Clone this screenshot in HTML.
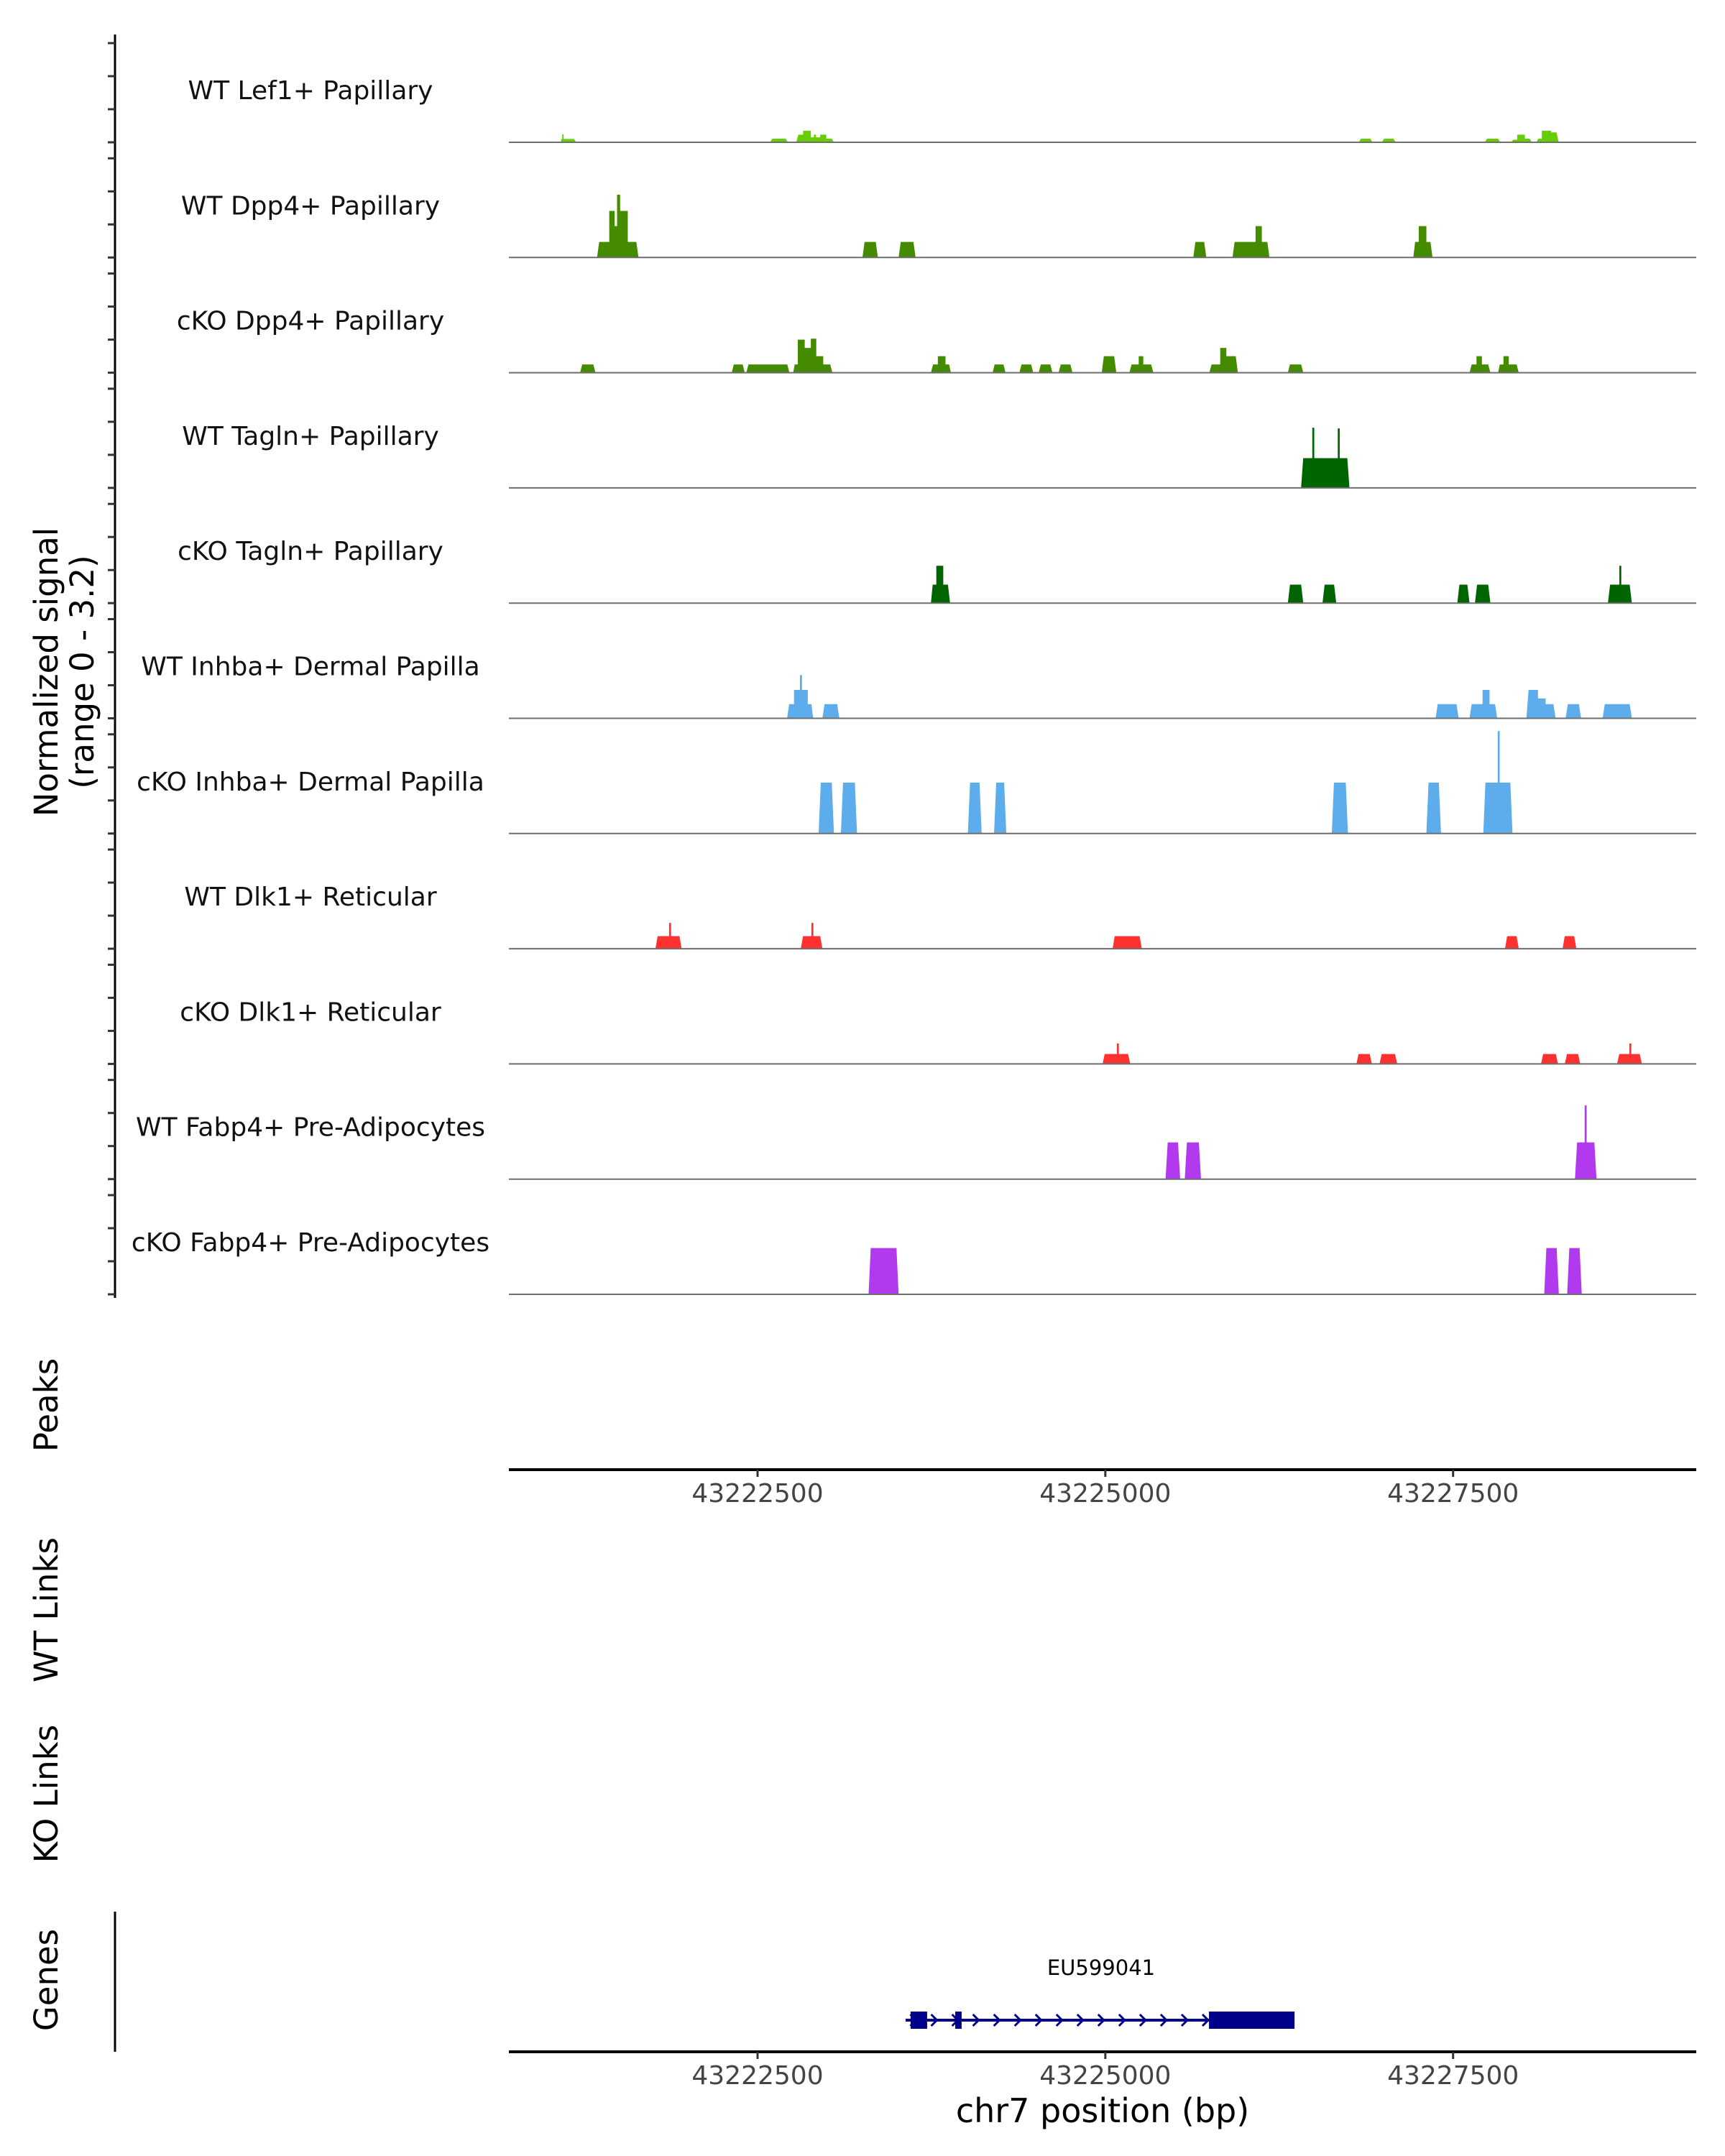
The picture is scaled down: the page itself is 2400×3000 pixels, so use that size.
<!DOCTYPE html>
<html><head><meta charset="utf-8"><style>
html,body{margin:0;padding:0;background:#fff;}
svg{display:block;font-family:"DejaVu Sans","Liberation Sans",sans-serif;}
</style></head><body>
<svg id="chart" width="2400" height="3000" viewBox="0 0 2400 3000" xmlns="http://www.w3.org/2000/svg"></svg>
<script>
// ---- data ----
const trackNames = ["WT Lef1+ Papillary","WT Dpp4+ Papillary","cKO Dpp4+ Papillary","WT Tagln+ Papillary","cKO Tagln+ Papillary","WT Inhba+ Dermal Papilla","cKO Inhba+ Dermal Papilla","WT Dlk1+ Reticular","cKO Dlk1+ Reticular","WT Fabp4+ Pre-Adipocytes","cKO Fabp4+ Pre-Adipocytes"];
const trackColors = ["#66CD00","#458B00","#458B00","#006400","#006400","#5DADEC","#5DADEC","#FF3030","#FF3030","#B23AEE","#B23AEE"];
// segments: [startBp, endBp, value]
const segLef1 = [[43221086,43221196,0.1],[43221096,43221106,0.24],[43222590,43222718,0.11],[43222778,43222828,0.23],[43222828,43222883,0.35],[43222883,43222950,0.15],[43222905,43222920,0.23],[43222950,43222994,0.23],[43222994,43223049,0.11],[43226822,43226921,0.11],[43226988,43227087,0.11],[43227728,43227839,0.11],[43227917,43227961,0.08],[43227961,43228016,0.23],[43228016,43228066,0.11],[43228099,43228138,0.11],[43228138,43228204,0.35],[43228204,43228259,0.3]];
const segWTDpp4 = [[43221346,43221434,0.47],[43221434,43221473,1.41],[43221473,43221490,0.95],[43221490,43221512,1.9],[43221512,43221567,1.41],[43221567,43221644,0.47],[43223254,43223365,0.47],[43223514,43223636,0.47],[43225632,43225726,0.47],[43225914,43226080,0.47],[43226080,43226125,0.95],[43226125,43226180,0.47],[43227214,43227253,0.47],[43227253,43227308,0.95],[43227308,43227352,0.47]];
const segKODpp4 = [[43221224,43221335,0.25],[43222314,43222408,0.25],[43222419,43222729,0.25],[43222756,43222789,0.25],[43222789,43222839,1.0],[43222839,43222883,0.75],[43222883,43222922,1.03],[43222922,43222972,0.5],[43222972,43223038,0.25],[43223746,43223796,0.25],[43223796,43223851,0.5],[43223851,43223890,0.25],[43224189,43224283,0.25],[43224382,43224482,0.25],[43224521,43224620,0.25],[43224664,43224764,0.25],[43224974,43225079,0.5],[43225173,43225240,0.25],[43225240,43225273,0.5],[43225273,43225345,0.25],[43225748,43225826,0.25],[43225826,43225870,0.75],[43225870,43225953,0.5],[43226312,43226423,0.25],[43227618,43227668,0.25],[43227668,43227707,0.5],[43227707,43227768,0.25],[43227823,43227862,0.25],[43227862,43227900,0.5],[43227900,43227972,0.25]];
const segWTTagln = [[43226407,43226755,0.9],[43226488,43226502,1.82],[43226671,43226685,1.8]];
const segKOTagln = [[43223746,43223785,0.56],[43223785,43223835,1.13],[43223835,43223884,0.56],[43226312,43226423,0.56],[43226561,43226660,0.56],[43227530,43227618,0.56],[43227657,43227768,0.56],[43228613,43228785,0.56],[43228695,43228709,1.13]];
const segWTInhba = [[43222712,43222762,0.43],[43222762,43222861,0.86],[43222805,43222819,1.31],[43222861,43222900,0.43],[43222966,43223088,0.43],[43227374,43227540,0.43],[43227618,43227712,0.43],[43227712,43227762,0.86],[43227762,43227817,0.43],[43228027,43228110,0.86],[43228110,43228165,0.6],[43228165,43228237,0.43],[43228309,43228420,0.43],[43228575,43228785,0.43]];
const segKOInhba = [[43222939,43223049,1.54],[43223099,43223215,1.54],[43224012,43224111,1.54],[43224200,43224288,1.54],[43226628,43226744,1.54],[43227308,43227413,1.54],[43227717,43227927,1.54],[43227821,43227835,3.1]];
const segWTDlk1 = [[43221766,43221954,0.38],[43221864,43221878,0.78],[43222811,43222966,0.38],[43222887,43222901,0.78],[43225052,43225151,0.38],[43225151,43225262,0.38],[43227873,43227972,0.38],[43228287,43228386,0.38]];
const segKODlk1 = [[43224980,43225179,0.3],[43225083,43225097,0.62],[43226805,43226916,0.3],[43226971,43227098,0.3],[43228132,43228254,0.3],[43228303,43228414,0.3],[43228679,43228857,0.3],[43228767,43228781,0.62]];
const segWTFabp4 = [[43225433,43225538,1.11],[43225571,43225688,1.11],[43228376,43228531,1.11],[43228446,43228460,2.23]];
const segKOFabp4 = [[43223298,43223514,1.4],[43228155,43228260,1.4],[43228320,43228425,1.4]];
const trackSegs = [segLef1,segWTDpp4,segKODpp4,segWTTagln,segKOTagln,segWTInhba,segKOInhba,segWTDlk1,segKODlk1,segWTFabp4,segKOFabp4];
const xTicks = [43222500,43225000,43227500];
const xTickLabels = ["43222500","43225000","43227500"];
const geneName = "EU599041";
const geneStart = 43223564, geneEnd = 43226360;
const geneExons = [[43223600,43223719],[43223921,43223967],[43225745,43226360]];
const yTicks = [0,1,2,3];

// ---- scales ----
const PX0 = 708, PX1 = 2360;
const BP_PER = 0.19354, BP_REF = 43222500, PX_REF = 1054;
function xs(bp){ return PX_REF + (bp - BP_REF) * BP_PER; }
const UNIT = 46;
const TRACK0 = 198, TRACK_H = 160.3;
function baseY(i){ return TRACK0 + i * TRACK_H; }
function ys(i, v){ return baseY(i) - v * UNIT; }

const NS = "http://www.w3.org/2000/svg";
const svg = document.getElementById("chart");
function mk(tag, attrs, parent){ const e=document.createElementNS(NS,tag); for(const k in attrs) e.setAttribute(k,attrs[k]); (parent||svg).appendChild(e); return e; }
function txt(s, attrs, parent){ const e=mk("text",attrs,parent); e.textContent=s; return e; }

// group segments into contiguous blocks with step profile
function blocks(segs){
  const s = segs.slice().sort((a,b)=>a[0]-b[0]);
  const groups=[]; let cur=null;
  for(const g of s){
    if(cur && g[0] <= cur.end+1){ cur.segs.push(g); cur.end=Math.max(cur.end,g[1]); }
    else { cur={start:g[0],end:g[1],segs:[g]}; groups.push(cur); }
  }
  return groups.map(gr=>{
    const bs=[...new Set(gr.segs.flatMap(q=>[q[0],q[1]]))].sort((a,b)=>a-b);
    const steps=[];
    for(let k=0;k<bs.length-1;k++){
      const m=(bs[k]+bs[k+1])/2; let v=0;
      for(const q of gr.segs) if(q[0]<=m && q[1]>=m) v=Math.max(v,q[2]);
      steps.push([bs[k],bs[k+1],v]);
    }
    return steps;
  });
}

// left y-axis
const yAxis = mk("g",{});


mk("line",{x1:160,y1:48,x2:160,y2:1806,stroke:"#000","stroke-width":3},yAxis);
for(let i=0;i<trackNames.length;i++){
  for(const t of yTicks){
    const tk = mk("line",{x1:150,x2:160,y1:ys(i,t),y2:ys(i,t),stroke:"#333","stroke-width":3},yAxis);
    
    
  }
}
const yt = txt("Normalized signal",{x:0,y:0,"font-size":45,"text-anchor":"middle",transform:"translate(80,935) rotate(-90)",fill:"#000"});


const yt2 = txt("(range 0 - 3.2)",{x:0,y:0,"font-size":45,"text-anchor":"middle",transform:"translate(130,935) rotate(-90)",fill:"#000"});



// tracks
for(let i=0;i<trackNames.length;i++){
  const g = mk("g",{});
  
  
  const lb = txt(trackNames[i],{x:432,y:baseY(i)-60,"font-size":36,"text-anchor":"middle",fill:"#111"},g);
  
  
  const y0=baseY(i);
  for(const steps of blocks(trackSegs[i])){
    const pts=[];
    const first=steps[0], last=steps[steps.length-1];
    pts.push(`${xs(first[0])},${y0}`);
    steps.forEach((st,k)=>{
      const x0=xs(st[0]), x1=xs(st[1]);
      const d0 = k===0 ? Math.min(3,(x1-x0)/3) : 0;
      const d1 = k===steps.length-1 ? Math.min(3,(x1-x0)/3) : 0;
      pts.push(`${x0+d0},${ys(i,st[2])}`);
      pts.push(`${x1-d1},${ys(i,st[2])}`);
    });
    pts.push(`${xs(last[1])},${y0}`);
    const p = mk("polygon",{points:pts.join(" "),fill:trackColors[i]},g);
    
    
  }
  const bl = mk("line",{x1:PX0,x2:PX1,y1:y0,y2:y0,stroke:"#6e6e6e","stroke-width":2},g);
  
  
}

// side labels
const sides = [["Peaks",1955,"peaks-label"],["WT Links",2240,"wt-links-label"],["KO Links",2496,"ko-links-label"],["Genes",2755,"genes-label"]];
for(const s of sides){
  const t = txt(s[0],{x:0,y:0,"font-size":45,"text-anchor":"middle",transform:`translate(80,${s[1]}) rotate(-90)`,fill:"#000"});
  
  
}

// x axes
function xAxis(y, name){
  const g = mk("g",{});
  
  
  mk("line",{x1:PX0,x2:PX1,y1:y,y2:y,stroke:"#000","stroke-width":4},g);
  xTicks.forEach((t,k)=>{
    mk("line",{x1:xs(t),x2:xs(t),y1:y,y2:y+10,stroke:"#333","stroke-width":3},g);
    const l = txt(xTickLabels[k],{x:xs(t),y:y+45,"font-size":36,"text-anchor":"middle",fill:"#444"},g);
    
    
  });
}
xAxis(2045,"peaks-x-axis");
xAxis(2855,"genes-x-axis");
const xl = txt("chr7 position (bp)",{x:1534,y:2953,"font-size":46,"text-anchor":"middle",fill:"#000"});



// genes panel
mk("line",{x1:160,x2:160,y1:2660,y2:2855,stroke:"#000","stroke-width":3});
const gg = mk("g",{});


const gy = 2811;
mk("line",{x1:xs(geneStart),x2:xs(geneEnd),y1:gy,y2:gy,stroke:"#00008B","stroke-width":4},gg);
for(let bp=geneStart+60; bp<geneEnd-60; bp+=150){
  const x=xs(bp);
  mk("polyline",{points:`${x-5},${gy-8} ${x+3},${gy} ${x-5},${gy+8}`,fill:"none",stroke:"#00008B","stroke-width":3},gg);
}
for(const e of geneExons){
  const r = mk("rect",{x:xs(e[0]),y:gy-12,width:xs(e[1])-xs(e[0]),height:24,fill:"#00008B"},gg);
  
  
}
const gl = txt(geneName,{x:1532,y:2748,"font-size":29,"text-anchor":"middle",fill:"#000"},gg);


</script>
</body></html>
